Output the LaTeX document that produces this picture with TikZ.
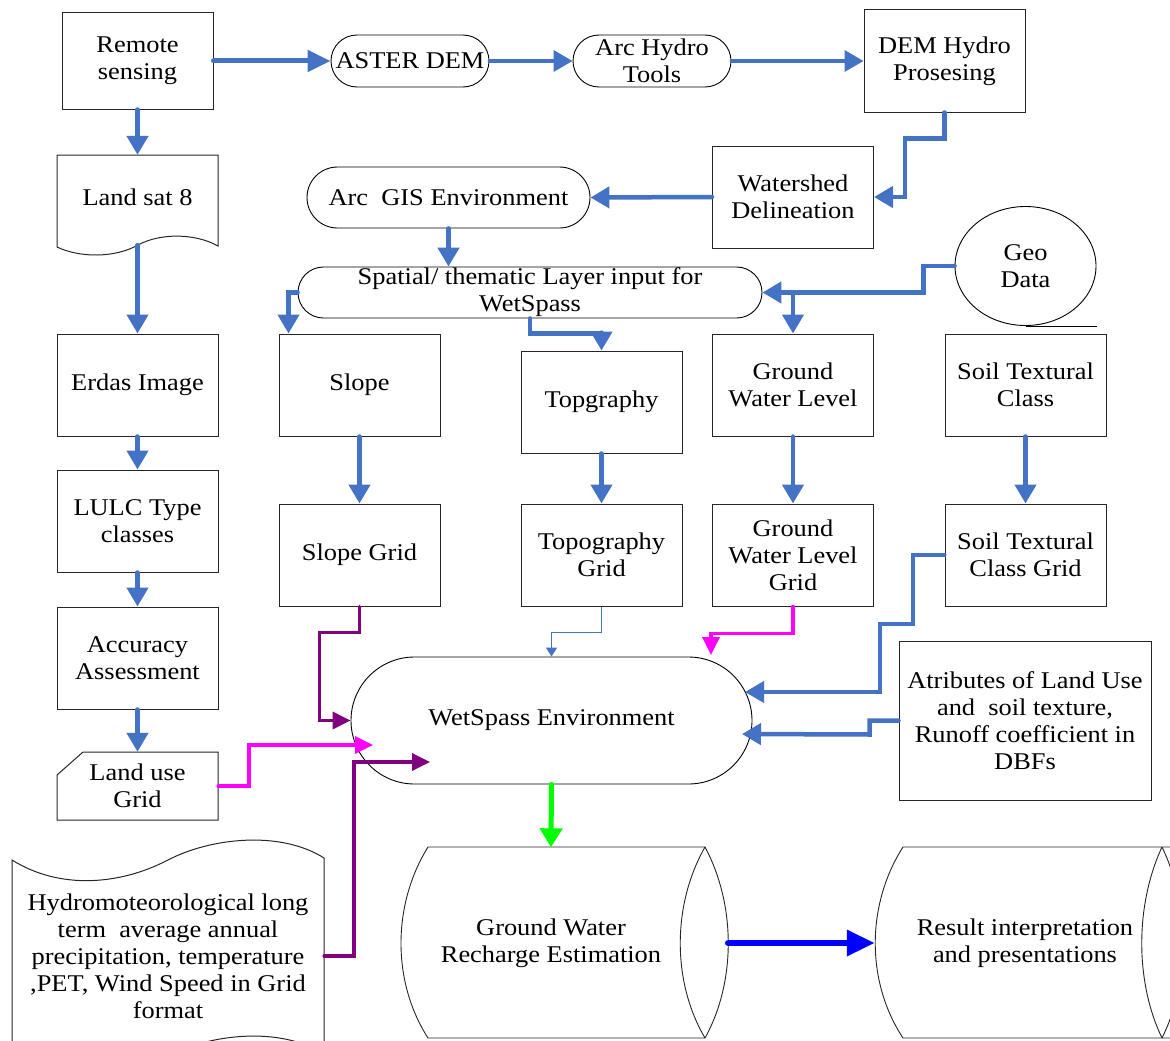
\documentclass[tikz,border=0pt]{standalone}
\usepackage{fontspec}
\setmainfont{Liberation Serif}[FakeStretch=1.1]
\usetikzlibrary{arrows.meta}
\usetikzlibrary{shapes.misc, shapes.geometric}
\usetikzlibrary{calc}

\definecolor{ablue}{HTML}{4472C4}
\definecolor{apurple}{HTML}{800080}
\definecolor{amagenta}{HTML}{FF00FF}
\definecolor{agreen}{HTML}{00FF00}
\definecolor{adeep}{HTML}{0000FF}

\begin{document}
\begin{tikzpicture}[x=1pt, y=-1pt,
        every node/.style={font=\fontsize{24}{27}\selectfont, align=center},
        box/.style={draw=black!85, line width=1pt, minimum width=161pt, minimum height=102pt, inner sep=2pt},
        pill/.style={draw=black, line width=0.9pt, rounded rectangle, inner sep=1pt},
        plain/.style={inner sep=0pt},
        outline/.style={draw=black!85, line width=1pt},
        flow/.style={draw=ablue, line width=4.5pt, line cap=round, -{Triangle[length=19pt,width=21pt]}},
        thinflow/.style={draw=ablue, line width=1pt, -{Triangle[length=9pt,width=11pt]}},
        pinkflow/.style={draw=amagenta, line width=3.5pt, line cap=round, -{Triangle[length=18pt,width=17pt]}},
        purpflow/.style={draw=apurple, line width=3.5pt, line cap=round, -{Triangle[length=18pt,width=17pt]}},
        greenflow/.style={draw=agreen, line width=5pt, line cap=round, -{Triangle[length=19pt,width=22pt]}},
        deepflow/.style={draw=adeep, line width=6.5pt, line cap=round, -{Triangle[length=28pt,width=25pt]}}]

        \useasboundingbox (0,0) rectangle (1170,1041);
        \clip (0,0) rectangle (1170,1041);

        % Top row
        \node[box, minimum width=151pt, minimum height=96pt] (remote) at (137.5,61) {Remote\\sensing};
        \node[pill, minimum width=160pt, minimum height=52pt] (aster) at (410,61) {ASTER DEM};
        \node[pill, minimum width=160pt, minimum height=52pt] (archydro) at (652,61) {Arc Hydro\\Tools};
        \node[box] (demhydro) at (944.5,61) {DEM Hydro\\Prosesing};

        % Second row
        \node[box] (watershed) at (793,197) {Watershed\\Delineation};
        \node[pill, minimum width=285pt, minimum height=61pt] (arcgis) at (448.5,197.5) {Arc~~GIS Environment};
        \node[pill, minimum width=466pt, minimum height=51pt] (spatial) at (530,292.5) {Spatial/ thematic Layer input for\\WetSpass};
        \node[ellipse, draw=black, line width=0.9pt, minimum width=141pt, minimum height=119pt, inner sep=0pt] (geo) at (1025.5,266) {Geo\\Data};
        \draw[line width=0.9pt] (geo.south) -- ++(71,0);

        % Left column
        \node[plain, minimum width=161pt, minimum height=90pt] (landsat) at (137.5,200) {\raisebox{5pt}{Land sat 8}};
        \draw[outline] (138,245) .. controls (160,233) and (195,233) .. (218,246) -- (218,155) -- (57,155) -- (57,247)
            .. controls (80,258) and (115,258) .. (138,245);
        \node[box] (erdas) at (137.5,385) {Erdas Image};
        \node[box] (lulc) at (137.5,521) {LULC Type\\classes};
        \node[box] (accuracy) at (137.5,658) {Accuracy\\Assessment};
        \node[plain, minimum width=161pt, minimum height=68pt] (landuse) at (137.5,786) {Land use\\Grid};
        \draw[outline] (57,775) -- (83,752) -- (218,752) -- (218,820) -- (57,820) -- cycle;

        % Layer boxes
        \node[box] (slope) at (359.5,385) {Slope};
        \node[box] (topo) at (601.5,402) {Topgraphy};
        \node[box] (gwl) at (793,385) {Ground\\Water Level};
        \node[box] (soil) at (1025.5,385) {Soil Textural\\Class};
        \node[box] (slopegrid) at (359.5,555) {Slope Grid};
        \node[box] (topogrid) at (601.5,555) {Topography\\Grid};
        \node[box] (gwlgrid) at (793,555) {Ground\\Water Level\\Grid};
        \node[box] (soilgrid) at (1025.5,555) {Soil Textural\\Class Grid};

        % WetSpass and inputs
        \node[pill, minimum width=403pt, minimum height=127pt] (wet) at (551.5,720.5) {\raisebox{-2pt}{WetSpass Environment}};
        \node[box, minimum width=252pt, minimum height=159pt] (attr) at (1025,720.5)
            {Atributes of Land Use\\and~~soil texture,\\Runoff coefficient in\\DBFs};
        \node[plain, minimum width=312pt] (hydro) at (168,956)
            {Hydromoteorological long\\term~~average annual\\precipitation, temperature\\,PET, Wind Speed in Grid\\format};
        \draw[outline] (12,1080) -- (12,860) .. controls (60,890) and (120,885) .. (168,860)
            .. controls (210,838) and (280,830) .. (324,858) -- (324,1080);
        \draw[outline] (12,1056) .. controls (60,1086) and (120,1081) .. (168,1056)
            .. controls (210,1034) and (280,1026) .. (324,1054);

        % Cylinders
        \node[plain, minimum width=354pt, minimum height=191pt] (recharge) at (551,943) {Ground Water\\Recharge Estimation};
        \draw[outline, line width=0.9pt] (428,847) -- (705,847) .. controls (736,905) and (736,982) .. (705,1038) -- (428,1038)
            .. controls (392,982) and (392,905) .. (428,847);
        \draw[outline, line width=0.9pt] (705,847) .. controls (672,905) and (672,982) .. (705,1038);
        \node[plain, minimum width=300pt, minimum height=191pt] (result) at (1025,943) {Result interpretation\\and presentations};
        \draw[outline, line width=0.9pt] (1195,847) -- (903,847) .. controls (866,905) and (866,982) .. (903,1038) -- (1195,1038);
        \draw[outline, line width=0.9pt] (1162,847) .. controls (1135,905) and (1135,982) .. (1162,1038);
        \draw[outline, line width=0.9pt] (1162,847) .. controls (1190,905) and (1190,982) .. (1162,1038);

        % Free ends inside WetSpass
        \coordinate (wetA) at (373,745);
        \coordinate (wetB) at (745,692);
        \coordinate (wetC) at (742,734);
        \coordinate (wetD) at (430,762);
        \coordinate (wetE) at (711,655);

        % Arrows
        \draw[flow, line width=5pt, -{Triangle[length=23pt,width=21pt]}] (remote.east) -- (aster.west);
        \draw[flow, line width=3.5pt] (aster.east) -- (archydro.west);
        \draw[flow, line width=3.5pt] (archydro.east) -- (demhydro.west);
        \draw[flow] (demhydro.south) -- ++(0,26) -| ($(watershed.east)+(31,0)$) -- (watershed.east);
        \draw[flow] (watershed.west) -- (arcgis.east);
        \draw[flow] (arcgis.south) -- (spatial.north -| arcgis.south);
        \draw[flow] (spatial.west) -| ($(slope.north west)+(10,0)$);
        \draw[flow] (spatial.south) -- ++(0,15) -| (topo.north);
        \draw[flow] (geo.west) -- ++(-31,0) |- (spatial.east);
        \draw[flow] (gwl.north |- spatial.east) -- (gwl.north);

        \draw[flow] (remote.south) -- (landsat.north);
        \draw[flow] (landsat.south) -- (erdas.north);
        \draw[flow] (erdas.south) -- (lulc.north);
        \draw[flow] (lulc.south) -- (accuracy.north);
        \draw[flow] (accuracy.south) -- (landuse.north);

        \draw[flow] (slope.south) -- (slopegrid.north);
        \draw[flow] (topo.south) -- (topogrid.north);
        \draw[flow] (gwl.south) -- (gwlgrid.north);
        \draw[flow] (soil.south) -- (soilgrid.north);

        \draw[purpflow] (slopegrid.south) -- ++(0,26) -| ($(wet.west)+(-31,0)$) -- (wet.west);
        \draw[thinflow] (topogrid.south) -- ++(0,26) -| (wet.north);
        \draw[pinkflow] (gwlgrid.south) -- ++(0,27) -| (wetE);
        \draw[flow, line width=4pt] (soilgrid.west) -- ++(-32,0) -- ++(0,69) -- ++(-33,0) -- ++(0,68) -- (wetB);
        \draw[flow] (attr.west) -- ++(-29,0) -- ++(0,14) -- (wetC);
        \draw[pinkflow] (landuse.east) -- ++(31,0) |- (wetA);
        \draw[purpflow] (hydro.east) -- ++(30,0) |- (wetD);

        \draw[greenflow] (wet.south) -- (recharge.north);
        \draw[deepflow] (recharge.east) -- (result.west);

\end{tikzpicture}
\end{document}
